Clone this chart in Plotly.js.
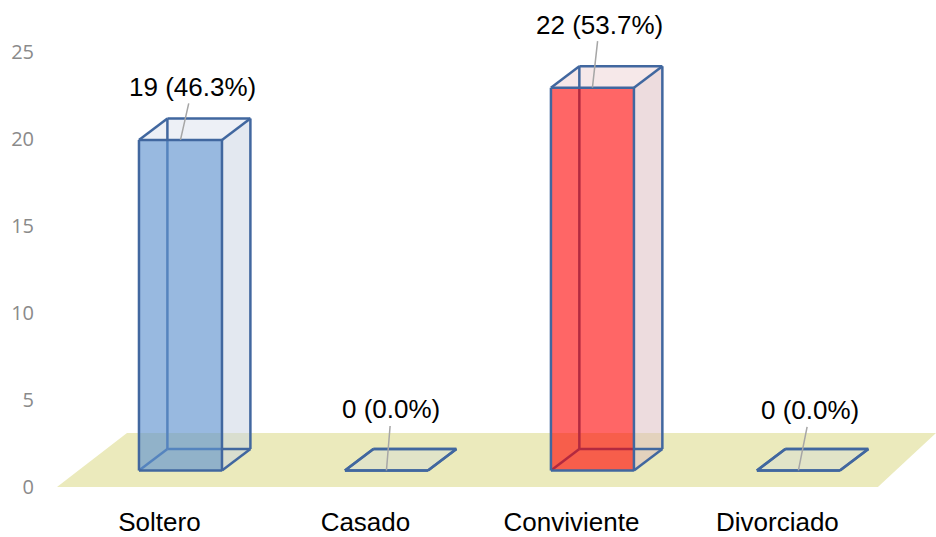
<!DOCTYPE html>
<html>
<head>
<meta charset="utf-8">
<script src="https://cdn.plot.ly/plotly-3.0.1.min.js"></script>
<style>html,body{margin:0;padding:0;background:#fff}#chart{width:936px;height:537px}</style>
</head>
<body>
<div id="chart"></div>
<script>
// ---- data ----
const categories = ['Soltero', 'Casado', 'Conviviente', 'Divorciado'];
const counts = [19, 0, 22, 0];
const percents = [46.3, 0.0, 53.7, 0.0];
const yTicks = [0, 5, 10, 15, 20, 25];

// ---- style ----
const frontColors = ['rgba(97,148,208,0.65)', 'rgba(97,148,208,0.65)', 'rgba(255,0,0,0.6)', 'rgba(97,148,208,0.65)'];
const sideColors  = ['rgba(200,210,225,0.5)', 'rgba(200,210,225,0.5)', 'rgba(220,185,190,0.5)', 'rgba(200,210,225,0.5)'];
const topColors   = ['rgba(215,222,236,0.45)', 'rgba(200,212,232,0.28)', 'rgba(238,210,212,0.5)', 'rgba(200,212,232,0.28)'];
const labelOffsets = [[12, -53], [5, -61], [7, -63], [12, -60]];
const EDGE = '#41679F';
const HW = 0.2015, DX = 0.138, DY = 1.236, BASE = 0.95;
const NARROW = '"Liberation Sans Narrow", "Arial Narrow", "Liberation Sans", Arial, sans-serif';

const traces = [];
const n = categories.length;
// floor
traces.push({
  x: [-0.5995, -0.2597, n - 1 + 0.668, n - 1 + 0.386, -0.5995],
  y: [0, 3.10, 3.10, 0, 0],
  mode: 'lines', fill: 'toself', fillcolor: '#EBEABC', line: {width: 0}, hoverinfo: 'skip'
});

const boxes = counts.map((v, i) => {
  const x0 = i - HW, x1 = i + HW, y0 = BASE, y1 = BASE + v;
  const F = [[x0, y0], [x1, y0], [x1, y1], [x0, y1]];
  const B = F.map(p => [p[0] + DX, p[1] + DY]);
  return {F, B};
});
const poly = (pts) => ({x: pts.map(p => p[0]).concat([pts[0][0]]), y: pts.map(p => p[1]).concat([pts[0][1]])});
const segs = (list) => {
  const x = [], y = [];
  list.forEach(([a, b]) => { x.push(a[0], b[0], null); y.push(a[1], b[1], null); });
  return {x, y};
};

// side and top faces
boxes.forEach(({F, B}, i) => {
  const s = poly([F[1], F[2], B[2], B[1]]);
  traces.push({x: s.x, y: s.y, mode: 'lines', fill: 'toself', fillcolor: sideColors[i], line: {width: 0}, hoverinfo: 'skip'});
  const t = poly([F[3], F[2], B[2], B[3]]);
  traces.push({x: t.x, y: t.y, mode: 'lines', fill: 'toself', fillcolor: topColors[i], line: {width: 0}, hoverinfo: 'skip'});
});
// hidden edges
boxes.forEach(({F, B}) => {
  const e = segs([[B[0], B[3]], [B[0], B[1]], [F[0], B[0]]]);
  traces.push({x: e.x, y: e.y, mode: 'lines', line: {color: EDGE, width: 2.5}, hoverinfo: 'skip'});
});
// front faces
boxes.forEach(({F}, i) => {
  const f = poly(F);
  traces.push({x: f.x, y: f.y, mode: 'lines', fill: 'toself', fillcolor: frontColors[i], line: {width: 0}, hoverinfo: 'skip'});
});
// visible edges
boxes.forEach(({F, B}) => {
  const e = segs([[F[0], F[1]], [F[1], F[2]], [F[2], F[3]], [F[3], F[0]],
                  [B[3], B[2]], [B[2], B[1]], [F[3], B[3]], [F[2], B[2]], [F[1], B[1]]]);
  traces.push({x: e.x, y: e.y, mode: 'lines', line: {color: EDGE, width: 2.5}, hoverinfo: 'skip'});
});

const annotations = counts.map((v, i) => ({
  x: i, y: BASE + v, xref: 'x', yref: 'y',
  text: v + ' (' + percents[i].toFixed(1) + '%)',
  showarrow: true, arrowhead: 0, arrowwidth: 1.5, arrowcolor: '#A6A6A6',
  standoff: 0, startstandoff: 0,
  ax: labelOffsets[i][0], ay: labelOffsets[i][1],
  font: {family: NARROW, size: 26, color: '#000'}
}));

const layout = {
  width: 936, height: 537,
  margin: {l: 38, r: 0, t: 0, b: 37},
  paper_bgcolor: '#fff', plot_bgcolor: '#fff',
  showlegend: false, hovermode: false,
  xaxis: {
    range: [-0.6917, 3.668], showgrid: false, zeroline: false, showline: false,
    tickmode: 'array', tickvals: categories.map((c, i) => i - 0.102), ticktext: categories,
    ticks: '', ticklabelstandoff: 4, tickfont: {family: NARROW, size: 26, color: '#000'}
  },
  yaxis: {
    range: [-0.747, 27.99], showgrid: false, zeroline: false, showline: false,
    tickmode: 'array', tickvals: yTicks, ticktext: yTicks.map(String),
    ticks: '', ticklabelstandoff: 3,
    tickfont: {family: '"Open Sans", sans-serif', size: 20, color: '#8A8A8A'}
  },
  annotations: annotations
};

Plotly.newPlot('chart', traces, layout, {staticPlot: true, displayModeBar: false});
</script>
</body>
</html>
